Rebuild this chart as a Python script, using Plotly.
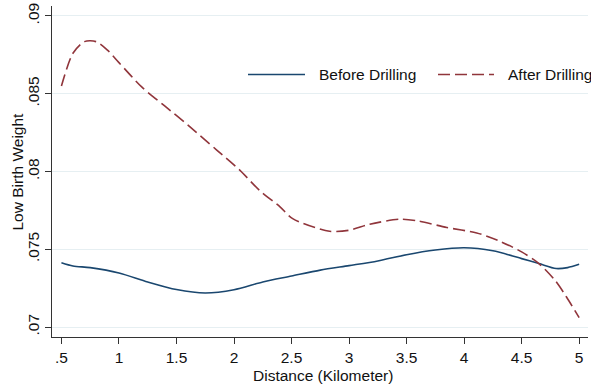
import plotly.graph_objects as go

# Data
before_x = [0.5, 0.6, 0.75, 1.0, 1.25, 1.5, 1.75, 2.0, 2.25, 2.5, 2.75, 3.0,
            3.25, 3.5, 3.75, 4.0, 4.25, 4.5, 4.65, 4.8, 4.9, 5.0]
before_y = [0.07414, 0.07393, 0.07382, 0.07348, 0.0729, 0.07241, 0.07219, 0.0724,
            0.0729, 0.07328, 0.07366, 0.07395, 0.07425, 0.07465, 0.07495, 0.0751,
            0.0749, 0.0744, 0.07408, 0.07376, 0.07382, 0.07403]

after_x = [0.5, 0.6, 0.7, 0.8, 0.9, 1.0, 1.2, 1.4, 1.6, 1.85, 2.05, 2.22, 2.4, 2.51,
           2.83, 3.0, 3.18, 3.44, 3.6, 3.85, 4.11, 4.3, 4.5, 4.65, 4.79, 4.89, 5.0]
after_y = [0.0855, 0.0876, 0.08835, 0.08835, 0.0878, 0.0870, 0.08542, 0.0842, 0.08298,
           0.08138, 0.08009, 0.0788, 0.07773, 0.07697, 0.07616, 0.07622, 0.07661,
           0.07693, 0.07682, 0.0764, 0.07605, 0.07555, 0.07483, 0.07408, 0.07301,
           0.07193, 0.0706]

series_names = ["Before Drilling", "After Drilling"]
x_ticks = [0.5, 1, 1.5, 2, 2.5, 3, 3.5, 4, 4.5, 5]
x_labels = [".5", "1", "1.5", "2", "2.5", "3", "3.5", "4", "4.5", "5"]
y_ticks = [0.07, 0.075, 0.08, 0.085, 0.09]
y_labels = [".07", ".075", ".08", ".085", ".09"]
x_title = "Distance (Kilometer)"
y_title = "Low Birth Weight"

BLUE = "#1a476f"
RED = "#90353b"
DASH = "12px,5px"
FONT = "Liberation Sans, Arial, sans-serif"
FS = 15.5
W, H = 591, 386
ML, MR, MT, MB = 52, 3, 6, 49
PW, PH = W - ML - MR, H - MT - MB


def px_x(p):
    return (p - ML) / PW


def px_y(p):
    return (H - MB - p) / PH


fig = go.Figure()
fig.add_trace(go.Scatter(x=before_x, y=before_y, mode="lines", name=series_names[0],
                         line=dict(color=BLUE, width=1.6, shape="spline", smoothing=0.8)))
fig.add_trace(go.Scatter(x=after_x, y=after_y, mode="lines", name=series_names[1],
                         line=dict(color=RED, width=1.6, shape="spline", smoothing=0.8,
                                   dash=DASH)))

# Legend drawn inside the plot (Stata-style with long key lines)
legend_items = [
    (series_names[0], BLUE, "solid", 248, 305, 317),
    (series_names[1], RED, DASH, 438, 494, 506),
]
ly = px_y(74.5)
for name, col, dash, x0, x1, xt in legend_items:
    fig.add_shape(type="line", xref="paper", yref="paper", x0=px_x(x0), x1=px_x(x1),
                  y0=ly, y1=ly, line=dict(color=col, width=1.6, dash=dash))
    fig.add_annotation(text=name, xref="paper", yref="paper", x=px_x(xt), y=ly,
                       xanchor="left", yanchor="middle", showarrow=False,
                       font=dict(size=FS, color="#111"))

fig.add_annotation(text=x_title, xref="paper", yref="paper", x=px_x(322.5), y=px_y(375),
                   xanchor="center", yanchor="middle", showarrow=False,
                   font=dict(size=FS, color="#111"))
fig.add_annotation(text=y_title, xref="paper", yref="paper", x=px_x(17), y=px_y(171.5),
                   xanchor="center", yanchor="middle", showarrow=False, textangle=-90,
                   font=dict(size=FS, color="#111"))

fig.update_layout(
    width=W, height=H,
    margin=dict(l=ML, r=MR, t=MT, b=MB, autoexpand=False),
    paper_bgcolor="white", plot_bgcolor="white",
    font=dict(family=FONT, size=FS, color="#111"),
    showlegend=False,
)
fig.update_xaxes(
    range=[0.418, 5.077], tickvals=x_ticks, ticktext=x_labels, automargin=False,
    showline=True, linecolor="#333", linewidth=1.3,
    ticks="outside", ticklen=6, tickcolor="#333", tickwidth=1.3,
    showgrid=False, zeroline=False, tickfont=dict(size=FS),
)
fig.update_yaxes(
    range=[0.06936, 0.09064], tickvals=y_ticks, ticktext=y_labels, tickangle=-90,
    automargin=False,
    showline=True, linecolor="#333", linewidth=1.3,
    ticks="outside", ticklen=6, tickcolor="#333", tickwidth=1.3,
    showgrid=True, gridcolor="#e6eff2", gridwidth=1, zeroline=False,
    tickfont=dict(size=FS),
)

fig.write_html("out.html", config={"displayModeBar": False},
               post_script="document.body.style.margin='0';document.body.style.overflow='hidden';")
